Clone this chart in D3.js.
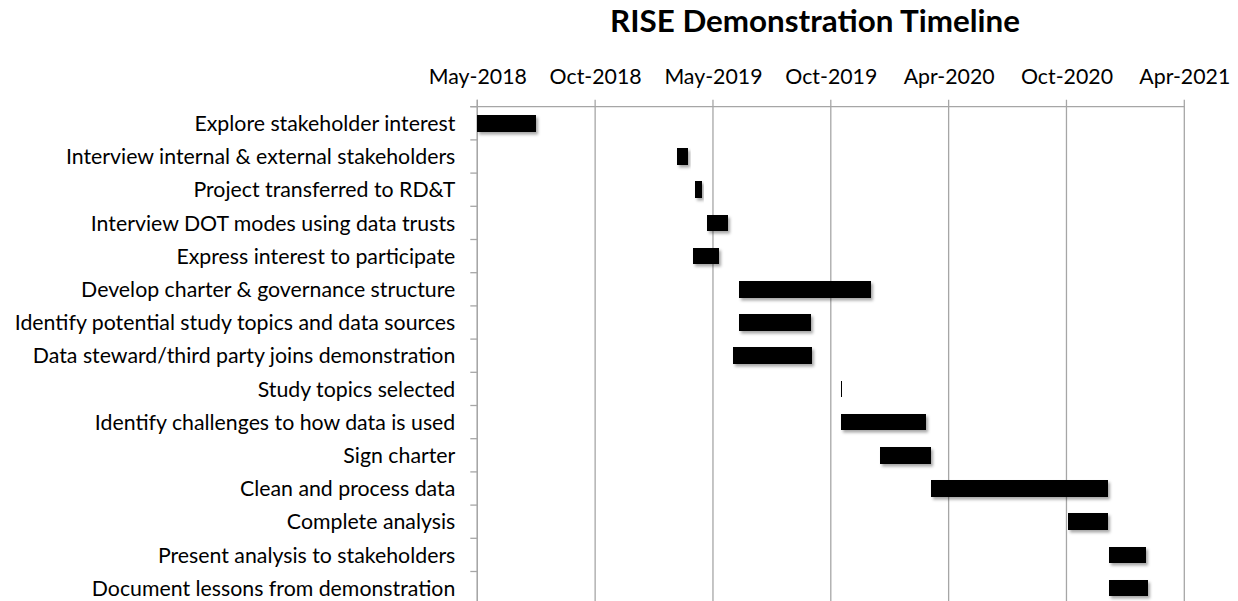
<!DOCTYPE html>
<html>
<head>
<meta charset="utf-8">
<script src="https://cdn.jsdelivr.net/npm/d3@7"></script>
<style>
  html, body { margin: 0; padding: 0; background: #fff; }
  svg { display: block; }
  text { font-family: Lato, "Open Sans", sans-serif; fill: #000; }
</style>
</head>
<body>
<svg id="chart" width="1238" height="601"></svg>
<script>
// ---- Data ----
const tasks = [
  "Explore stakeholder interest",
  "Interview internal & external stakeholders",
  "Project transferred to RD&T",
  "Interview DOT modes using data trusts",
  "Express interest to participate",
  "Develop charter & governance structure",
  "Identify potential study topics and data sources",
  "Data steward/third party joins demonstration",
  "Study topics selected",
  "Identify challenges to how data is used",
  "Sign charter",
  "Clean and process data",
  "Complete analysis ",
  "Present analysis to stakeholders",
  "Document lessons from demonstration"
];
const startDates = [
  "2018-05-02", "2019-03-06", "2019-04-03", "2019-04-22", "2019-03-31",
  "2019-06-10", "2019-06-10", "2019-06-01", "2019-11-14", "2019-11-15",
  "2020-01-14", "2020-04-01", "2020-10-31", "2021-01-01", "2021-01-01"
];
const endDates = [
  "2018-08-01", "2019-03-24", "2019-04-14", "2019-05-24", "2019-05-10",
  "2019-12-31", "2019-09-30", "2019-10-01", "2019-11-15", "2020-03-25",
  "2020-04-01", "2020-12-31", "2020-12-31", "2021-02-28", "2021-03-03"
];
const tickDates = [
  "2018-05-02", "2018-10-31", "2019-05-01", "2019-10-30",
  "2020-04-29", "2020-10-28", "2021-04-28"
];
const chartTitle = "RISE Demonstration Timeline";

// ---- Layout ----
const parse = d3.utcParse("%Y-%m-%d");
const fmt = d3.utcFormat("%b-%Y");
const plotLeft = 477.3, plotRight = 1184.3, plotTop = 106.7, plotBottom = 604.7;
const gridColor = "#a6a6a6";

const svg = d3.select("#chart");

const defs = svg.append("defs");
const filt = defs.append("filter").attr("id", "shadow")
  .attr("x", "-10%").attr("y", "-30%").attr("width", "130%").attr("height", "190%");
filt.append("feDropShadow").attr("dx", 2).attr("dy", 2.5).attr("stdDeviation", 1.6)
  .attr("flood-color", "#000").attr("flood-opacity", 0.35);

const x = d3.scaleUtc()
  .domain([parse(tickDates[0]), parse(tickDates[tickDates.length - 1])])
  .range([plotLeft, plotRight]);

const y = d3.scaleBand()
  .domain(tasks)
  .range([plotTop, plotBottom])
  .paddingInner(0.5)
  .paddingOuter(0.25);

const ticks = tickDates.map(parse);

// Gridlines
svg.append("g").selectAll("line").data(ticks).join("line")
  .attr("x1", d => x(d)).attr("x2", d => x(d))
  .attr("y1", plotTop - 7).attr("y2", plotBottom)
  .attr("stroke", gridColor).attr("stroke-width", 1.3);

// Top axis (domain line + labels)
const xAxis = svg.append("g")
  .attr("transform", `translate(0,${plotTop})`)
  .call(d3.axisTop(x).tickValues(ticks).tickFormat(fmt).tickSize(0).tickSizeOuter(0));
xAxis.select(".domain").attr("stroke", gridColor).attr("stroke-width", 1.3)
  .attr("d", `M${plotLeft - 7},0H${plotRight}`);
xAxis.selectAll("text").attr("y", 84 - plotTop).attr("dy", 0)
  .style("font-family", "Lato, 'Open Sans', sans-serif");

// Left axis line and boundary ticks
const step = y.step();
const boundaries = d3.range(tasks.length + 1).map(i => plotTop + i * step);
svg.append("g").selectAll("line").data(boundaries).join("line")
  .attr("x1", plotLeft - 7).attr("x2", plotLeft)
  .attr("y1", d => d).attr("y2", d => d)
  .attr("stroke", gridColor).attr("stroke-width", 1.3);
svg.append("line")
  .attr("x1", plotLeft).attr("x2", plotLeft)
  .attr("y1", plotTop - 7).attr("y2", plotBottom)
  .attr("stroke", gridColor).attr("stroke-width", 1.3);

// Category labels
const yAxis = svg.append("g")
  .attr("transform", `translate(${plotLeft},0)`)
  .call(d3.axisLeft(y).tickSize(0).tickPadding(22));
yAxis.select(".domain").remove();
yAxis.selectAll("text").attr("dy", "0.36em")
  .style("font-family", "Lato, 'Open Sans', sans-serif");

// Fit label font size to reference width (longest label ~441px)
let fs = 20;
yAxis.selectAll("text").style("font-size", fs + "px");
let maxW = d3.max(yAxis.selectAll("text").nodes(), n => n.getComputedTextLength());
fs = fs * 441 / maxW;
yAxis.selectAll("text").style("font-size", fs + "px");
xAxis.selectAll("text").style("font-size", fs + "px");
svg.selectAll(".tick text").attr("fill", "#000");

// Bars
const rows = tasks.map((t, i) => ({ task: t, start: parse(startDates[i]), end: parse(endDates[i]) }));
svg.append("g").selectAll("rect").data(rows).join("rect")
  .attr("x", d => x(d.start))
  .attr("y", d => y(d.task))
  .attr("width", d => Math.max(1, x(d.end) - x(d.start)))
  .attr("height", y.bandwidth())
  .attr("fill", "#000")
  .attr("shape-rendering", "crispEdges")
  .attr("filter", d => (x(d.end) - x(d.start) > 3 ? "url(#shadow)" : null));

// Title
const title = svg.append("text")
  .attr("x", 815).attr("y", 32.3)
  .attr("text-anchor", "middle")
  .style("font-weight", "bold")
  .style("font-size", "30px")
  .text(chartTitle);
const tw = title.node().getComputedTextLength();
title.style("font-size", (30 * 410 / tw) + "px");
</script>
</body>
</html>
